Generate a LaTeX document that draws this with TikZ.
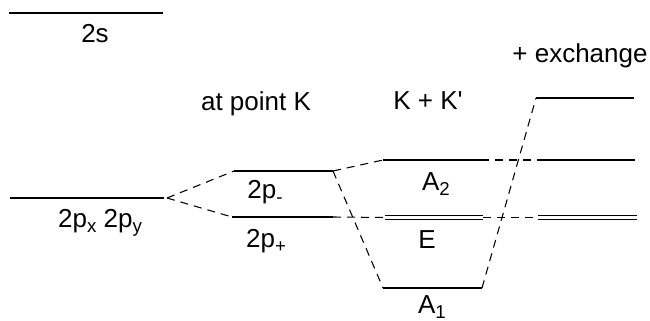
\documentclass[tikz,border=0pt]{standalone}
\usepackage{fontspec}
\setmainfont{Liberation Sans}
\newcommand\lsub[1]{\raisebox{-4pt}{\fontsize{14}{14}\selectfont #1}}
\begin{document}
\begin{tikzpicture}[x=0.75pt,y=-0.75pt,
  level/.style={line width=1.05pt},
  conn/.style={line width=0.8pt,dash pattern=on 6pt off 4.5pt},
  lab/.style={inner sep=0pt,anchor=base,font=\fontsize{19.5}{22}\selectfont}]
\useasboundingbox (0,0) rectangle (650,321);
% level end points
\coordinate (sL) at (9,13);   \coordinate (sR) at (163,13);
\coordinate (pL) at (10,198); \coordinate (pR) at (164,198);
\coordinate (pmL) at (234,171); \coordinate (pmR) at (333,171);
\coordinate (ppL) at (232,217); \coordinate (ppR) at (333,217);
\coordinate (a2L) at (383,160); \coordinate (a2R) at (481,160);
\coordinate (eL) at (385,217.5); \coordinate (eR) at (483,217.5);
\coordinate (a1L) at (383,288); \coordinate (a1R) at (482,288);
\coordinate (xtL) at (536,98); \coordinate (xtR) at (634,98);
\coordinate (xmL) at (537,160); \coordinate (xmR) at (635,160);
\coordinate (xeL) at (538,217.5); \coordinate (xeR) at (637,217.5);
\coordinate (pC) at (167,198);
% levels
\draw[level] (sL) -- (sR);
\draw[level] (pL) -- (pR);
\draw[level] (pmL) -- (pmR);
\draw[level] (ppL) -- (ppR);
\draw[level] (a2L) -- (a2R);
\draw[level] ([yshift=1.5pt]eL) -- ([yshift=1.5pt]eR);
\draw[level] ([yshift=-1.5pt]eL) -- ([yshift=-1.5pt]eR);
\draw[level] (a1L) -- (a1R);
\draw[level] (xtL) -- (xtR);
\draw[level] (xmL) -- (xmR);
\draw[level] ([yshift=1.7pt]xeL) -- ([yshift=1.7pt]xeR);
\draw[level] ([yshift=-1.7pt]xeL) -- ([yshift=-1.7pt]xeR);
% connectors
\draw[conn] (pC) -- (pmL);
\draw[conn] (pC) -- (ppL);
\draw[conn] (pmR) -- (a2L);
\draw[conn] (pmR) -- (a1L);
\draw[conn] (ppR) -- (eL);
\draw[conn] (a2R) -- (xmL);
\draw[conn] (eR) -- (xeL);
\draw[conn] (a1R) -- (xtL);
% labels
\node[lab] (t2s) at (95,43) {2s};
\node[lab] (tatk) at (256,111) {at point K};
\node[lab] (tkk) at (428,110) {K + K\textquotesingle};
\node[lab] (tex) at (580,63) {+ exchange};
\node[lab] (tpxy) at (100,227) {2p\lsub{x} 2p\lsub{y}};
\node[lab] (tpm) at (265,198) {2p\lsub{-}};
\node[lab] (tpp) at (266,247) {2p\lsub{+}};
\node[lab] (ta2) at (436,190) {A\lsub{2}};
\node[lab] (te) at (427,248) {E};
\node[lab] (ta1) at (432,313) {A\lsub{1}};
\end{tikzpicture}
\end{document}
